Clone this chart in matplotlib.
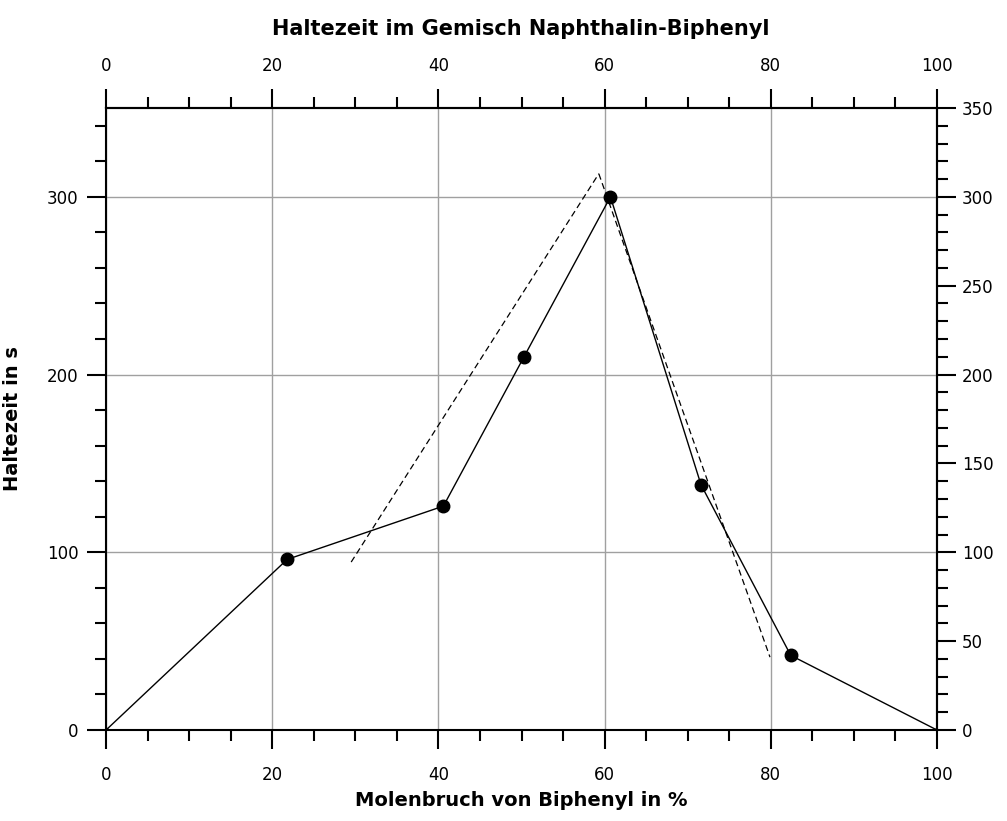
import matplotlib.pyplot as plt
from matplotlib.ticker import MultipleLocator

# measured points (mole fraction biphenyl in %, hold time in s)
x_pts = [0, 21.8, 40.6, 50.3, 60.7, 71.6, 82.4, 100]
y_pts = [0, 96, 126, 210, 300, 138, 42, 0]

# hand drawn construction lines
dash1_x = [29.5, 59.3]
dash1_y = [94.5, 313]
dash2_x = [59.3, 79.9]
dash2_y = [313, 41]

fig = plt.figure(figsize=(10.07, 8.21), dpi=100)
ax = fig.add_axes([0.1053, 0.1108, 0.8252, 0.7577])

ax.plot(x_pts, y_pts, color='black', linewidth=1.0, zorder=3)
ax.plot(x_pts[1:-1], y_pts[1:-1], 'o', color='black', markersize=9, zorder=4)
ax.plot([x_pts[0], x_pts[-1]], [y_pts[0], y_pts[-1]], 'o', color='black', markersize=3, zorder=4)
ax.plot(dash1_x, dash1_y, color='black', linewidth=0.9, linestyle=(0, (5, 3)), zorder=3)
ax.plot(dash2_x, dash2_y, color='black', linewidth=0.9, linestyle=(0, (5, 3)), zorder=3)

ax.set_xlim(0, 100)
ax.set_ylim(0, 350)
ax.xaxis.set_major_locator(MultipleLocator(20))
ax.xaxis.set_minor_locator(MultipleLocator(5))
ax.set_yticks([0, 100, 200, 300])
ax.yaxis.set_minor_locator(MultipleLocator(20))
ax.grid(True, which='major', color='#a0a0a0', linewidth=1.0)
ax.set_axisbelow(True)

for s in ax.spines.values():
    s.set_linewidth(1.5)

ax.tick_params(which='major', direction='out', length=14, width=1.5, labelsize=12, colors='black')
ax.tick_params(axis='x', which='major', pad=12)
ax.tick_params(axis='y', which='major', pad=6)
ax.tick_params(which='minor', direction='out', length=8, width=1.5)

top = ax.secondary_xaxis('top')
top.xaxis.set_major_locator(MultipleLocator(20))
top.xaxis.set_minor_locator(MultipleLocator(5))
top.tick_params(which='major', direction='out', length=14, width=1.5, labelsize=12, pad=10)
top.tick_params(which='minor', direction='out', length=8, width=1.5)
top.spines['top'].set_linewidth(1.5)

right = ax.secondary_yaxis('right')
right.yaxis.set_major_locator(MultipleLocator(50))
right.yaxis.set_minor_locator(MultipleLocator(10))
right.tick_params(which='major', direction='out', length=14, width=1.5, labelsize=12, pad=4)
right.tick_params(which='minor', direction='out', length=8, width=1.5)
right.spines['right'].set_linewidth(1.5)

ax.set_xlabel('Molenbruch von Biphenyl in %', fontsize=14, fontweight='bold')
ax.xaxis.set_label_coords(0.5, -0.098)
ax.set_ylabel('Haltezeit in s', fontsize=14, fontweight='bold')
ax.yaxis.set_label_coords(-0.101, 0.5)
fig.text(0.517, 0.965, 'Haltezeit im Gemisch Naphthalin-Biphenyl', ha='center', va='center',
         fontsize=15, fontweight='bold')

fig.savefig('out.png', dpi=100)
